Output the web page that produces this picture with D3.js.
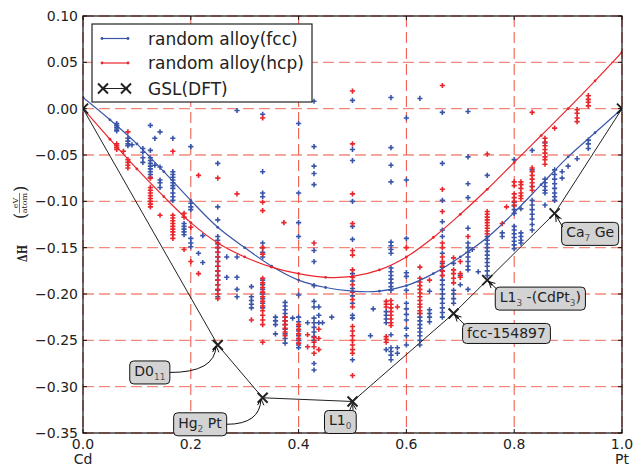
<!DOCTYPE html>
<html>
<head>
<meta charset="utf-8">
<script src="https://cdn.jsdelivr.net/npm/d3@7"></script>
<style>
  body { margin: 0; background: #fff; }
  svg { display: block; font-family: "DejaVu Sans", sans-serif; }
</style>
</head>
<body>
<svg id="drawing_region"></svg>
<script>
// axis ticks and end members
const xTicks = [0, 0.2, 0.4, 0.6, 0.8, 1.0];
const yTicks = [0.10, 0.05, 0.00, -0.05, -0.10, -0.15, -0.20, -0.25, -0.30, -0.35];
const endNames = ["Cd", "Pt"];
const legendLabels = ["random alloy(fcc)", "random alloy(hcp)", "GSL(DFT)"];

// random alloy curves
const curveX   = [0, 0.05, 0.1, 0.15, 0.2, 0.25, 0.3, 0.35, 0.4, 0.45, 0.5, 0.55, 0.6, 0.65, 0.7, 0.75, 0.8, 0.85, 0.9, 0.95, 1.0];
const fccCurve = [0.012, -0.012, -0.038, -0.068, -0.099, -0.128, -0.150, -0.170, -0.185, -0.193, -0.197, -0.197, -0.191, -0.178, -0.160, -0.139, -0.112, -0.082, -0.052, -0.026, 0.000];
const hcpCurve = [0.000, -0.033, -0.065, -0.095, -0.123, -0.145, -0.160, -0.171, -0.178, -0.182, -0.181, -0.174, -0.160, -0.139, -0.114, -0.087, -0.058, -0.029, 0.000, 0.030, 0.061];

// ground state line (DFT)
const gslX = [0, 0.25, 0.3333, 0.5, 0.6875, 0.75, 0.875, 1.0];
const gslY = [0, -0.255, -0.312, -0.316, -0.221, -0.185, -0.113, 0];
const gslNames = ["", "D0_{11}", "Hg_{2} Pt", "L1_{0}", "fcc-154897", "L1_{3} -(CdPt_{3})", "Ca_{7} Ge", ""];

// structure enthalpies, grouped by composition
const fccScatter = [
  [0.0625, [-0.016, -0.018, -0.020, -0.022, -0.024]],
  [0.0833, [-0.032, -0.035, -0.038, -0.040]],
  [0.0909, [-0.039]],
  [0.1111, [-0.043, -0.047, -0.053, -0.058]],
  [0.125,  [-0.018, -0.045, -0.053, -0.056, -0.059, -0.062, -0.065, -0.068, -0.071, -0.074]],
  [0.1333, [-0.032, -0.061]],
  [0.1429, [-0.025, -0.063, -0.077, -0.080, -0.085]],
  [0.1667, [-0.032, -0.068, -0.071, -0.074, -0.077, -0.080, -0.083, -0.086, -0.091, -0.095, -0.099]],
  [0.1875, [-0.124, -0.127, -0.130, -0.133, -0.136]],
  [0.2,    [-0.041, -0.102, -0.106, -0.109, -0.140, -0.145, -0.149]],
  [0.2143, [-0.156]],
  [0.2222, [-0.137, -0.166]],
  [0.25,   [-0.059, -0.106, -0.120, -0.138, -0.142, -0.146, -0.150, -0.155, -0.160, -0.165, -0.170, -0.175, -0.180, -0.185, -0.190, -0.196, -0.203]],
  [0.2667, [-0.160, -0.182]],
  [0.2857, [-0.002, -0.160, -0.182, -0.195, -0.203]],
  [0.3125, [-0.192, -0.203, -0.207, -0.211, -0.215]],
  [0.3333, [-0.006, -0.068, -0.091, -0.095, -0.145, -0.150, -0.155, -0.160, -0.185, -0.190, -0.195, -0.200, -0.205, -0.210, -0.215]],
  [0.3571, [-0.225, -0.229, -0.233, -0.243]],
  [0.375,  [-0.209, -0.213, -0.217, -0.221, -0.225, -0.229, -0.233, -0.238, -0.243, -0.248, -0.253]],
  [0.3889, [-0.226]],
  [0.4,    [-0.016, -0.091, -0.123, -0.138, -0.201, -0.225, -0.230, -0.235, -0.240, -0.245, -0.250, -0.255, -0.258]],
  [0.4167, [-0.231]],
  [0.4286, [0.008, -0.041, -0.062, -0.070, -0.082, -0.153, -0.165, -0.191, -0.208, -0.214, -0.226, -0.231, -0.236, -0.241, -0.246, -0.250, -0.275, -0.282]],
  [0.4375, [-0.214, -0.223, -0.231]],
  [0.4444, [-0.231]],
  [0.4615, [-0.225]],
  [0.5,    [0.009, -0.044, -0.056, -0.100, -0.127, -0.141, -0.178, -0.186, -0.194, -0.202, -0.210, -0.223, -0.226, -0.271]],
  [0.5333, [-0.245]],
  [0.5385, [-0.216]],
  [0.5625, [-0.219, -0.223, -0.227, -0.231, -0.260]],
  [0.5714, [0.012, -0.042, -0.061, -0.079, -0.144, -0.148, -0.152, -0.156, -0.172, -0.176, -0.180, -0.184, -0.188, -0.192, -0.196, -0.244, -0.258, -0.262, -0.266, -0.271]],
  [0.5833, [-0.258, -0.264]],
  [0.6,    [-0.010, -0.077, -0.140, -0.177, -0.181, -0.196, -0.210, -0.216, -0.222, -0.228, -0.237, -0.245, -0.255]],
  [0.625,  [0.011, -0.221, -0.225, -0.229, -0.233, -0.237, -0.241, -0.245, -0.250, -0.255]],
  [0.6429, [-0.197, -0.217, -0.221, -0.225, -0.230]],
  [0.6667, [-0.004, -0.059, -0.099, -0.122, -0.131, -0.138, -0.156, -0.167, -0.171, -0.175, -0.180, -0.185, -0.190, -0.195, -0.200, -0.205, -0.210, -0.215, -0.220, -0.225]],
  [0.6875, [-0.167, -0.196, -0.200, -0.205, -0.210]],
  [0.7,    [-0.180, -0.190]],
  [0.7143, [-0.003, -0.052, -0.081, -0.096, -0.129, -0.145, -0.150, -0.155, -0.160, -0.165, -0.170, -0.174, -0.195]],
  [0.7222, [-0.152]],
  [0.7333, [-0.176]],
  [0.75,   [-0.072, -0.138, -0.142, -0.146, -0.150, -0.154, -0.158, -0.162, -0.166, -0.170, -0.175, -0.180]],
  [0.7778, [-0.134, -0.138]],
  [0.8,    [-0.055, -0.101, -0.105, -0.109, -0.113, -0.127, -0.131, -0.135, -0.139, -0.143, -0.147, -0.151]],
  [0.8125, [-0.108, -0.134, -0.138, -0.142, -0.145]],
  [0.8333, [-0.045, -0.066, -0.084, -0.099, -0.104, -0.109, -0.114, -0.119, -0.125, -0.131]],
  [0.8571, [-0.037, -0.076, -0.080, -0.084, -0.088, -0.091, -0.104]],
  [0.875,  [-0.066, -0.071, -0.076, -0.081, -0.086, -0.091, -0.095, -0.099]],
  [0.8889, [-0.068, -0.075]],
  [0.9,    [-0.062]],
  [0.9167, [-0.054]],
  [0.9375, [-0.034, -0.038, -0.043]]
];
const hcpScatter = [
  [0.0625, [-0.038, -0.040, -0.042, -0.044]],
  [0.075,  [-0.046]],
  [0.0833, [-0.025, -0.055, -0.058, -0.061, -0.064]],
  [0.125,  [-0.075, -0.085, -0.088, -0.091, -0.094, -0.097, -0.100, -0.103, -0.106]],
  [0.1429, [-0.115]],
  [0.1667, [-0.046, -0.115, -0.118, -0.121, -0.124, -0.127, -0.130, -0.133, -0.136, -0.140]],
  [0.1875, [-0.113, -0.117, -0.152]],
  [0.2,    [-0.128, -0.165]],
  [0.2143, [-0.072, -0.178]],
  [0.25,   [-0.075, -0.145, -0.150, -0.155, -0.160, -0.165, -0.170, -0.175, -0.180, -0.185, -0.190, -0.195, -0.200, -0.205]],
  [0.2857, [-0.092]],
  [0.3125, [-0.228]],
  [0.3333, [-0.010, -0.101, -0.110, -0.150, -0.157, -0.183, -0.188, -0.193, -0.198, -0.203, -0.208, -0.213, -0.218, -0.223, -0.228, -0.233, -0.252]],
  [0.3727, [-0.123]],
  [0.375,  [-0.225, -0.229, -0.233, -0.237, -0.241, -0.245]],
  [0.4,    [-0.233, -0.238, -0.243, -0.248, -0.253]],
  [0.4167, [-0.244, -0.257]],
  [0.4286, [-0.145, -0.247, -0.252, -0.257, -0.264]],
  [0.4375, [-0.238, -0.248, -0.260]],
  [0.5,    [0.019, -0.038, -0.092, -0.124, -0.153, -0.158, -0.174, -0.182, -0.190, -0.198, -0.206, -0.214, -0.235, -0.240, -0.245, -0.250, -0.255, -0.260, -0.264, -0.288]],
  [0.5625, [-0.208, -0.211, -0.214, -0.246, -0.249, -0.252]],
  [0.5714, [-0.207, -0.211, -0.215, -0.219, -0.223, -0.227, -0.231, -0.234]],
  [0.5833, [-0.214]],
  [0.6,    [-0.150]],
  [0.625,  [-0.171, -0.183, -0.187, -0.191, -0.195, -0.199, -0.203, -0.207, -0.211, -0.214, -0.218, -0.221]],
  [0.6429, [-0.185]],
  [0.6667, [0.025, -0.087, -0.111, -0.145, -0.150, -0.160, -0.165, -0.170, -0.175, -0.180]],
  [0.6875, [-0.161, -0.174, -0.178, -0.183, -0.188]],
  [0.7,    [-0.165, -0.178, -0.182]],
  [0.7143, [-0.138]],
  [0.75,   [-0.049, -0.111, -0.114, -0.117, -0.120, -0.123, -0.126, -0.129, -0.132, -0.135]],
  [0.7778, [-0.124]],
  [0.7857, [-0.106]],
  [0.8,    [-0.079, -0.083, -0.092, -0.096, -0.100, -0.104]],
  [0.8125, [-0.079, -0.082, -0.086, -0.091, -0.094, -0.097]],
  [0.8333, [-0.004, -0.064, -0.068, -0.072, -0.076, -0.080, -0.084, -0.088]],
  [0.8571, [-0.032, -0.036, -0.040, -0.044, -0.048, -0.052, -0.055, -0.060]],
  [0.875,  [-0.021]],
  [0.9167, [-0.001, -0.005, -0.010, -0.014]],
  [0.9375, [0.014, 0.010, 0.007, 0.003]]
];

const config = {
  width: 635,
  height: 467,
  margin: { top: 16, right: 13, bottom: 34, left: 83 },
  blue: "#3a55a8",
  red: "#e8262b",
  grid: "#f0604f",
  boxFill: "#d3d3d3"
};

// where each label box sits relative to its GSL point (px), and where the arrow leaves the box
const notes = [
  { i: 1, dx: -88, dy: 16, ax: 1, ay: 0.5, bend: true },
  { i: 2, dx: -89, dy: 15, ax: 1, ay: 0.5, bend: true },
  { i: 3, dx: -28, dy: 9,  ax: 0.9, ay: 0, bend: false },
  { i: 4, dx: 9,   dy: 10, ax: 0.02, ay: 0.05, bend: false },
  { i: 5, dx: 8,   dy: 7,  ax: 0.02, ay: 0.1, bend: false },
  { i: 6, dx: 7,   dy: 9,  ax: 0.02, ay: 0.2, bend: false }
];

const svg = d3.select("#drawing_region")
  .attr("width", config.width)
  .attr("height", config.height);

const m = config.margin;
const pL = m.left, pR = config.width - m.right, pT = m.top, pB = config.height - m.bottom;

const xscale = d3.scaleLinear().domain([0, 1]).range([pL, pR]);
const yscale = d3.scaleLinear().domain([-0.35, 0.10]).range([pB, pT]);

svg.append("defs").append("clipPath").attr("id", "plotclip")
  .append("rect")
  .attr("x", pL).attr("y", pT)
  .attr("width", pR - pL).attr("height", pB - pT);

// grid
const gridG = svg.append("g");
gridG.selectAll(".vg").data(xTicks).join("line")
  .attr("x1", d => xscale(d)).attr("x2", d => xscale(d))
  .attr("y1", pT).attr("y2", pB)
  .attr("stroke", config.grid).attr("stroke-width", 1.1)
  .attr("stroke-dasharray", "11,5");
gridG.selectAll(".hg").data(yTicks).join("line")
  .attr("y1", d => yscale(d)).attr("y2", d => yscale(d))
  .attr("x1", pL).attr("x2", pR)
  .attr("stroke", config.grid).attr("stroke-opacity", 0.75).attr("stroke-width", 1.4)
  .attr("stroke-dasharray", "11,5");

const plot = svg.append("g").attr("clip-path", "url(#plotclip)");

// scatter "+" markers
function flatten(cols) {
  const pts = [];
  cols.forEach(c => c[1].forEach(v => pts.push({ x: c[0], y: v })));
  return pts;
}
const plusPath = "M-2.6,0H2.6M0,-2.6V2.6";
plot.append("g").selectAll("path").data(flatten(fccScatter)).join("path")
  .attr("d", plusPath)
  .attr("transform", d => `translate(${xscale(d.x)},${yscale(d.y)})`)
  .attr("stroke", config.blue).attr("stroke-width", 1.6);
plot.append("g").selectAll("path").data(flatten(hcpScatter)).join("path")
  .attr("d", plusPath)
  .attr("transform", d => `translate(${xscale(d.x)},${yscale(d.y)})`)
  .attr("stroke", config.red).attr("stroke-width", 1.6);

// curves
const line = d3.line()
  .x(d => xscale(d[0]))
  .y(d => yscale(d[1]))
  .curve(d3.curveCatmullRom);

[[fccCurve, config.blue], [hcpCurve, config.red]].forEach(([vals, col]) => {
  const pts = curveX.map((x, i) => [x, vals[i]]);
  plot.append("path")
    .attr("d", line(pts))
    .attr("fill", "none").attr("stroke", col).attr("stroke-width", 1.2);
  plot.append("g").selectAll("circle").data(pts).join("circle")
    .attr("cx", d => xscale(d[0])).attr("cy", d => yscale(d[1]))
    .attr("r", 1.4).attr("fill", col);
});

// GSL
const gslPts = gslX.map((x, i) => [x, gslY[i]]);
plot.append("path")
  .attr("d", d3.line().x(d => xscale(d[0])).y(d => yscale(d[1]))(gslPts))
  .attr("fill", "none").attr("stroke", "#222").attr("stroke-width", 1);
const xPath = "M-5,-5L5,5M-5,5L5,-5";
plot.append("g").selectAll("path").data(gslPts).join("path")
  .attr("d", xPath)
  .attr("transform", d => `translate(${xscale(d[0])},${yscale(d[1])})`)
  .attr("stroke", "#222").attr("stroke-width", 2);

// frame and ticks
svg.append("rect")
  .attr("x", pL).attr("y", pT)
  .attr("width", pR - pL).attr("height", pB - pT)
  .attr("fill", "none").attr("stroke", "#111").attr("stroke-width", 1.2);

const tickG = svg.append("g").attr("stroke", "#111");
xTicks.forEach(t => {
  tickG.append("line").attr("x1", xscale(t)).attr("x2", xscale(t)).attr("y1", pB).attr("y2", pB - 4);
  tickG.append("line").attr("x1", xscale(t)).attr("x2", xscale(t)).attr("y1", pT).attr("y2", pT + 4);
});
yTicks.forEach(t => {
  tickG.append("line").attr("y1", yscale(t)).attr("y2", yscale(t)).attr("x1", pL).attr("x2", pL + 4);
  tickG.append("line").attr("y1", yscale(t)).attr("y2", yscale(t)).attr("x1", pR).attr("x2", pR - 4);
});

// tick labels
const fmtX = d3.format(".1f"), fmtY = d3.format(".2f");
svg.append("g").selectAll("text").data(xTicks).join("text")
  .attr("x", d => xscale(d)).attr("y", pB + 16)
  .attr("text-anchor", "middle").attr("font-size", 14).attr("fill", "#222")
  .text(d => fmtX(d));
svg.append("g").selectAll("text").data(yTicks).join("text")
  .attr("x", pL - 5).attr("y", d => yscale(d) + 5)
  .attr("text-anchor", "end").attr("font-size", 14).attr("fill", "#222")
  .text(d => fmtY(d));
svg.append("g").selectAll("text").data(endNames).join("text")
  .attr("x", (d, i) => xscale(i)).attr("y", pB + 31)
  .attr("text-anchor", "middle").attr("font-size", 14).attr("fill", "#222")
  .text(d => d);

// y label: ΔH (eV/atom)
const ylab = svg.append("g").attr("transform", "translate(22,224) rotate(-90)")
  .attr("font-family", "'DejaVu Serif', serif").attr("fill", "#222");
ylab.append("text").attr("x", -38).attr("y", 5)
  .attr("font-weight", "bold").attr("font-size", 12)
  .attr("textLength", 17).attr("lengthAdjust", "spacingAndGlyphs")
  .text("ΔH");
ylab.append("text").attr("x", 5).attr("y", 4).attr("font-size", 16).text("(");
ylab.append("text").attr("x", 21).attr("y", -4).attr("text-anchor", "middle").attr("font-size", 8).text("eV");
ylab.append("line").attr("x1", 11).attr("x2", 31).attr("y1", -2.5).attr("y2", -2.5)
  .attr("stroke", "#222").attr("stroke-width", 0.6);
ylab.append("text").attr("x", 21).attr("y", 4.5).attr("text-anchor", "middle").attr("font-size", 8).text("atom");
ylab.append("text").attr("x", 32).attr("y", 4).attr("font-size", 16).text(")");

// text with _{sub} parts
function richText(sel, str, size) {
  const parts = str.split(/(_\{[^}]*\})/).filter(s => s.length);
  let shifted = false;
  parts.forEach(p => {
    if (p.startsWith("_{")) {
      sel.append("tspan").attr("font-size", size * 0.64).attr("fill", "#555")
        .attr("dy", 4).text(p.slice(2, -1));
      shifted = true;
    } else {
      sel.append("tspan").attr("font-size", size).attr("dy", shifted ? -4 : 0).text(p);
      shifted = false;
    }
  });
}

// annotations
const noteG = svg.append("g");
notes.forEach(n => {
  const px = xscale(gslX[n.i]), py = yscale(gslY[n.i]);
  const bx = px + n.dx, by = py + n.dy;
  const g = noteG.append("g");
  const rect = g.append("rect");
  const txt = g.append("text").attr("x", bx + 4.5).attr("y", by + 15).attr("fill", "#222");
  richText(txt, gslNames[n.i], 14);
  const bb = txt.node().getBBox();
  const bw = bb.width + 9, bh = Math.max(20, bb.y + bb.height + 2 - by);
  rect.attr("x", bx).attr("y", by).attr("width", bw).attr("height", bh)
    .attr("rx", 4).attr("fill", config.boxFill).attr("stroke", "#111").attr("stroke-width", 1);

  // arrow from box to point
  const sx = bx + n.ax * bw, sy = by + n.ay * bh;
  const dx = px - sx, dy = py - sy, len = Math.hypot(dx, dy);
  const ex = px - dx / len * 2, ey = py - dy / len * 2;
  const cx = n.bend ? ex - 1 : (sx + ex) / 2, cy = n.bend ? sy : (sy + ey) / 2;
  g.append("path")
    .attr("d", `M${sx},${sy}Q${cx},${cy} ${ex},${ey}`)
    .attr("fill", "none").attr("stroke", "#111").attr("stroke-width", 1);
  const ang = Math.atan2(ey - cy, ex - cx);
  const a1 = ang + Math.PI * 0.85, a2 = ang - Math.PI * 0.85;
  g.append("path")
    .attr("d", `M${ex + 7 * Math.cos(a1)},${ey + 7 * Math.sin(a1)}L${ex},${ey}L${ex + 7 * Math.cos(a2)},${ey + 7 * Math.sin(a2)}`)
    .attr("fill", "none").attr("stroke", "#111").attr("stroke-width", 1);
});

// legend
const leg = svg.append("g");
leg.append("rect").attr("x", 92).attr("y", 24).attr("width", 220).attr("height", 78)
  .attr("fill", "#fff").attr("stroke", "#222").attr("stroke-width", 1.2);
const legRows = [38.5, 63, 88.5];
const legCols = [config.blue, config.red, "#222"];
legendLabels.forEach((lab, i) => {
  const y = legRows[i];
  leg.append("line").attr("x1", 102).attr("x2", 128).attr("y1", y).attr("y2", y)
    .attr("stroke", legCols[i]).attr("stroke-width", i == 2 ? 1 : 1.2);
  if (i < 2) {
    [102, 128].forEach(x => leg.append("circle").attr("cx", x).attr("cy", y).attr("r", 1.4).attr("fill", legCols[i]));
  } else {
    [103, 126].forEach(x => leg.append("path").attr("d", xPath)
      .attr("transform", `translate(${x},${y})`).attr("stroke", "#222").attr("stroke-width", 2));
  }
  leg.append("text").attr("x", 148).attr("y", y + 6)
    .attr("font-size", 17).attr("fill", "#222").text(lab);
});
</script>
</body>
</html>
